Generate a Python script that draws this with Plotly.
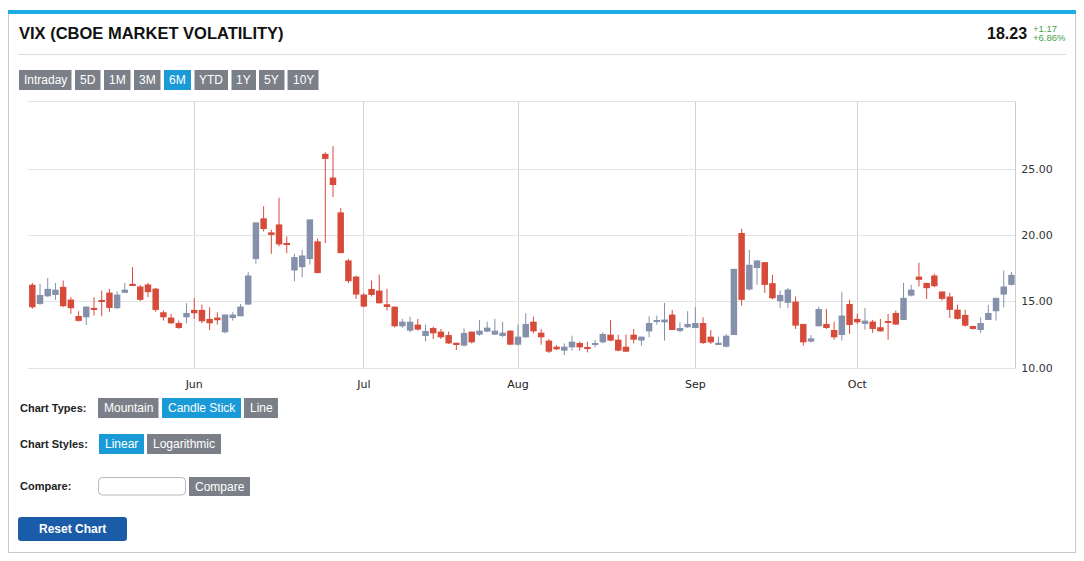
import pandas as pd
import plotly.graph_objects as go

# ---------------- data ----------------
holidays = ["2016-05-30", "2016-07-04", "2016-09-05"]
dates = [d.strftime("%Y-%m-%d") for d in pd.bdate_range("2016-05-02", "2016-10-31")
         if d.strftime("%Y-%m-%d") not in holidays]

opens = [16.27, 14.82, 15.40, 15.50, 16.11, 15.15, 13.91, 13.81, 14.52, 15.08,
         15.68, 14.50, 15.66, 16.34, 16.14, 16.29, 15.98, 14.19, 13.79, 13.38,
         13.81, 14.37, 14.37, 13.69, 13.79, 12.68, 13.76, 13.89, 14.77, 18.21,
         21.29, 20.23, 20.83, 19.42, 17.35, 17.60, 18.21, 19.55, 26.16, 24.37,
         21.74, 18.11, 16.89, 15.53, 15.96, 15.83, 14.80, 14.62, 13.13, 12.80,
         13.26, 12.40, 13.00, 12.73, 12.47, 11.89, 11.67, 12.73, 12.50, 12.73,
         12.50, 12.40, 12.80, 11.74, 12.30, 13.48, 12.65, 12.05, 11.59, 11.29,
         11.54, 11.87, 11.54, 11.72, 11.92, 12.50, 12.12, 11.59, 12.50, 12.05,
         12.75, 13.48, 13.43, 14.02, 12.85, 13.06, 13.00, 13.38, 12.35, 11.77,
         11.59, 12.47, 20.18, 15.91, 17.53, 17.98, 16.39, 15.03, 14.90, 15.00,
         13.31, 11.97, 13.13, 13.31, 12.85, 12.47, 14.82, 13.69, 13.31, 13.49,
         13.06, 13.49, 14.14, 13.61, 15.45, 16.89, 16.41, 16.97, 15.76, 15.38,
         14.39, 13.99, 13.15, 12.85, 13.61, 14.27, 15.53, 16.26]
highs = [16.41, 16.34, 16.79, 16.41, 16.59, 15.33, 14.27, 14.62, 15.33, 15.83,
         15.96, 15.76, 16.41, 17.60, 16.26, 16.41, 16.03, 14.32, 14.07, 13.56,
         14.87, 15.25, 14.77, 14.57, 14.19, 14.02, 14.19, 14.82, 17.22, 20.98,
         22.20, 20.43, 22.85, 19.92, 18.61, 18.91, 21.21, 19.75, 26.29, 26.74,
         22.07, 18.23, 16.97, 15.63, 16.59, 17.05, 15.96, 14.62, 13.69, 13.86,
         13.69, 13.26, 13.11, 12.93, 12.73, 11.89, 12.98, 12.73, 13.61, 13.48,
         13.69, 13.48, 12.85, 13.26, 14.12, 13.86, 12.93, 12.17, 11.72, 11.84,
         12.42, 11.97, 11.97, 12.10, 12.68, 13.61, 12.50, 12.50, 12.93, 12.35,
         13.89, 13.94, 14.90, 14.37, 13.43, 14.27, 14.57, 13.81, 12.85, 12.35,
         12.55, 17.47, 20.50, 18.91, 18.11, 17.98, 17.02, 15.83, 16.03, 15.38,
         13.31, 12.47, 14.62, 14.44, 13.48, 15.71, 15.13, 14.07, 14.52, 13.61,
         13.69, 14.07, 14.32, 16.41, 16.26, 17.93, 16.41, 17.10, 15.76, 15.66,
         14.75, 14.39, 13.18, 13.81, 14.75, 15.28, 17.35, 17.24]
lows = [14.45, 14.75, 15.33, 15.13, 14.57, 14.07, 13.49, 13.23, 13.94, 13.89,
        14.24, 14.44, 15.63, 16.24, 15.03, 15.33, 14.24, 13.56, 13.31, 12.93,
        13.36, 13.69, 13.36, 12.85, 13.26, 12.60, 13.56, 13.89, 14.77, 17.85,
        20.30, 18.61, 19.17, 18.66, 16.54, 16.84, 17.80, 17.15, 19.42, 22.90,
        18.66, 16.39, 15.20, 14.57, 15.38, 14.87, 14.32, 13.05, 13.00, 12.68,
        12.80, 11.99, 12.17, 12.17, 11.79, 11.34, 11.60, 11.84, 12.42, 12.68,
        12.47, 12.30, 11.74, 11.67, 12.25, 12.60, 11.74, 11.11, 11.34, 10.96,
        11.29, 11.29, 11.16, 11.54, 11.84, 12.00, 11.24, 11.21, 11.84, 11.67,
        12.30, 13.26, 12.05, 12.85, 12.68, 13.00, 13.00, 11.79, 11.79, 11.74,
        11.54, 12.47, 14.70, 15.83, 16.26, 15.66, 15.17, 14.52, 14.52, 12.93,
        11.67, 11.92, 13.13, 12.93, 12.12, 12.05, 12.55, 13.31, 12.88, 12.63,
        12.73, 12.12, 13.23, 13.61, 15.38, 16.14, 15.20, 16.09, 15.08, 13.76,
        13.64, 13.11, 12.88, 12.63, 13.61, 13.56, 14.57, 16.21]
closes = [14.57, 15.50, 15.96, 15.90, 14.65, 14.50, 13.54, 14.62, 14.37, 14.97,
          14.52, 15.53, 15.90, 16.24, 15.13, 15.71, 14.37, 13.81, 13.36, 13.00,
          14.14, 14.12, 13.51, 13.36, 13.59, 14.02, 14.02, 14.62, 16.97, 20.98,
          20.48, 20.10, 19.32, 19.34, 18.36, 18.48, 21.21, 17.15, 25.78, 23.81,
          18.66, 16.54, 15.53, 14.62, 15.50, 14.87, 14.65, 13.13, 13.48, 13.48,
          12.88, 12.78, 12.60, 12.30, 11.84, 11.74, 12.63, 11.92, 12.80, 13.03,
          12.80, 12.65, 11.74, 12.35, 13.31, 12.75, 12.30, 11.21, 11.39, 11.59,
          11.97, 11.54, 11.49, 11.79, 12.55, 12.05, 11.29, 11.21, 12.12, 12.35,
          13.38, 13.56, 13.64, 12.85, 13.00, 13.31, 13.38, 11.87, 11.92, 11.89,
          12.42, 17.47, 15.13, 17.78, 18.11, 16.26, 15.25, 15.50, 15.91, 13.18,
          11.92, 12.22, 14.44, 13.00, 12.30, 13.94, 13.23, 13.43, 13.56, 12.93,
          12.75, 13.38, 13.26, 15.28, 15.90, 16.64, 16.01, 16.16, 15.20, 14.37,
          13.69, 13.18, 12.93, 13.38, 14.14, 15.28, 16.14, 17.02]

month_ticks = ["2016-06-01", "2016-07-01", "2016-08-01", "2016-09-01", "2016-10-03"]
month_labels = ["Jun", "Jul", "Aug", "Sep", "Oct"]
y_ticks = [10, 15, 20, 25]

title_text = "VIX (CBOE MARKET VOLATILITY)"
last_value = "18.23"
change_abs = "+1.17"
change_pct = "+6.86%"
range_buttons = ["Intraday", "5D", "1M", "3M", "6M", "YTD", "1Y", "5Y", "10Y"]
active_range = "6M"

UP_COLOR = "#8591aa"
DOWN_COLOR = "#d74b3b"

# ---------------- geometry helpers (page pixels -> paper) ----------------
W, H = 1068, 545
OFF = 8
PL, PR, PT, PB = 28, 1015, 102, 368   # plot area in page px


def px(x):
    return (x - PL) / (PR - PL)


def py(y):
    return (PB - y) / (PB - PT)


GREY_BTN = "#7b8088"
BLUE_BTN = "#1a9bd8"
UI_FONT = "Liberation Sans, Arial, sans-serif"

fig = go.Figure()

# candlesticks: wicks (high-low) as line segments, bodies (open-close) as bars
for is_up, col in ((True, UP_COLOR), (False, DOWN_COLOR)):
    wx, wy = [], []
    bx, bbase, bh = [], [], []
    for d, o, h, l, c in zip(dates, opens, highs, lows, closes):
        if (c >= o) != is_up:
            continue
        wx += [d, d, None]
        wy += [l, h, None]
        bx.append(d)
        bbase.append(min(o, c))
        bh.append(max(abs(c - o), 0.08))
    fig.add_trace(go.Scatter(x=wx, y=wy, mode="lines",
                             line=dict(color=col, width=1), hoverinfo="skip"))
    fig.add_trace(go.Bar(x=bx, y=bh, base=bbase, width=0.84,
                         marker=dict(color=col, line=dict(width=0))))

shapes = []
annotations = []


def rect(x0, y0, x1, y1, fill, line=None, lw=0):
    shapes.append(dict(type="rect", xref="paper", yref="paper",
                       x0=px(x0), x1=px(x1), y0=py(y1), y1=py(y0),
                       fillcolor=fill, line=dict(width=lw, color=line or fill),
                       layer="above"))


def rrect(x0, y0, x1, y1, r, fill, line=None, lw=0):
    X0, X1, Y0, Y1 = px(x0), px(x1), py(y1), py(y0)
    rx = r / (PR - PL)
    ry = r / (PB - PT)
    path = (f"M{X0+rx},{Y0} L{X1-rx},{Y0} Q{X1},{Y0} {X1},{Y0+ry} "
            f"L{X1},{Y1-ry} Q{X1},{Y1} {X1-rx},{Y1} L{X0+rx},{Y1} "
            f"Q{X0},{Y1} {X0},{Y1-ry} L{X0},{Y0+ry} Q{X0},{Y0} {X0+rx},{Y0} Z")
    shapes.append(dict(type="path", xref="paper", yref="paper", path=path,
                       fillcolor=fill, line=dict(width=lw, color=line or fill),
                       layer="above"))


def text(x, y, s, size, color, anchor="left", bold=False, family=UI_FONT):
    annotations.append(dict(xref="paper", yref="paper", x=px(x), y=py(y),
                            text=f"<b>{s}</b>" if bold else s, showarrow=False,
                            xanchor=anchor, yanchor="middle",
                            font=dict(size=size, color=color, family=family)))


def button(x0, y0, x1, y1, label, fill, bold=False, size=12, r=0):
    if r:
        rrect(x0, y0, x1, y1, r, fill)
    else:
        rect(x0, y0, x1, y1, fill)
    text((x0 + x1) / 2, (y0 + y1) / 2, label, size, "white", anchor="center", bold=bold)


# panel frame
shapes.append(dict(type="line", xref="paper", yref="paper", x0=px(8.5), x1=px(8.5),
                   y0=py(552.5), y1=py(12), line=dict(color="#c8c8c8", width=1)))
shapes.append(dict(type="line", xref="paper", yref="paper", x0=px(1075.5), x1=px(1075.5),
                   y0=py(552.5), y1=py(12), line=dict(color="#c8c8c8", width=1)))
shapes.append(dict(type="line", xref="paper", yref="paper", x0=px(8.5), x1=px(1075.5),
                   y0=py(552.5), y1=py(552.5), line=dict(color="#c8c8c8", width=1)))
rect(8, 10, 1076, 14, "#1bade4")
# header separator
shapes.append(dict(type="line", xref="paper", yref="paper", x0=px(18), x1=px(1066),
                   y0=py(54.5), y1=py(54.5), line=dict(color="#dcdcdc", width=1)))

text(17, 33, title_text, 16.5, "#111111", bold=True)
text(1029, 33.5, last_value, 16, "#111111", anchor="right", bold=True)
text(1031, 28.5, change_abs, 9.5, "#45a045")
text(1031, 37.5, change_pct, 9.5, "#45a045")

# range buttons
btn_x = [(19, 71.5), (75, 100.5), (104, 130.5), (134, 160.5), (164, 191),
         (194.5, 228), (231.5, 256), (259, 284.5), (287.5, 318.5)]
for (a, b), lab in zip(btn_x, range_buttons):
    button(a, 70, b, 90, lab, BLUE_BTN if lab == active_range else GREY_BTN)

# bottom controls
text(18, 408, "Chart Types:", 11, "#222222", bold=True)
button(98, 398, 158.5, 418, "Mountain", GREY_BTN)
button(162, 398, 241, 418, "Candle Stick", BLUE_BTN)
button(244, 398, 278, 418, "Line", GREY_BTN)

text(18, 444, "Chart Styles:", 11, "#222222", bold=True)
button(99, 434, 144, 454, "Linear", BLUE_BTN)
button(147, 434, 221, 454, "Logarithmic", GREY_BTN)

text(18, 486, "Compare:", 11, "#222222", bold=True)
rrect(98.5, 477.5, 185.5, 495, 4, "white", line="#b8b8b8", lw=1)
button(189, 477, 250, 496, "Compare", GREY_BTN)

button(18, 517, 127, 541, "Reset Chart", "#1a5ca8", bold=True, r=3)

fig.update_layout(
    width=W, height=H,
    margin=dict(l=PL - OFF, r=W - (PR - OFF), t=PT - OFF, b=H - (PB - OFF), pad=0),
    paper_bgcolor="white", plot_bgcolor="white",
    showlegend=False,
    shapes=shapes, annotations=annotations,
    barmode="overlay",
    font=dict(family="DejaVu Sans", size=11, color="#333333"),
    xaxis=dict(
        type="category", categoryorder="array", categoryarray=dates,
        range=[-0.56, 127.46],
        tickmode="array", tickvals=month_ticks, ticktext=month_labels,
        showgrid=True, gridcolor="#d2d2d2", gridwidth=1,
        showline=True, mirror=True, linecolor="#e2e2e2", linewidth=1,
        ticks="outside", ticklen=6, tickcolor="rgba(0,0,0,0)",
        tickfont=dict(family="DejaVu Sans", size=11, color="#222222"),
        fixedrange=True, zeroline=False,
    ),
    yaxis=dict(
        side="right", range=[9.98, 30.08],
        tickmode="array", tickvals=y_ticks, tickformat=".2f",
        showgrid=True, gridcolor="#e4e4e4", gridwidth=1,
        showline=True, linecolor="#cccccc", linewidth=1,
        ticks="outside", ticklen=3, tickcolor="rgba(0,0,0,0)",
        tickfont=dict(family="DejaVu Sans", size=11, color="#333333"),
        fixedrange=True, zeroline=False,
    ),
)

fig.write_html("out.html")
